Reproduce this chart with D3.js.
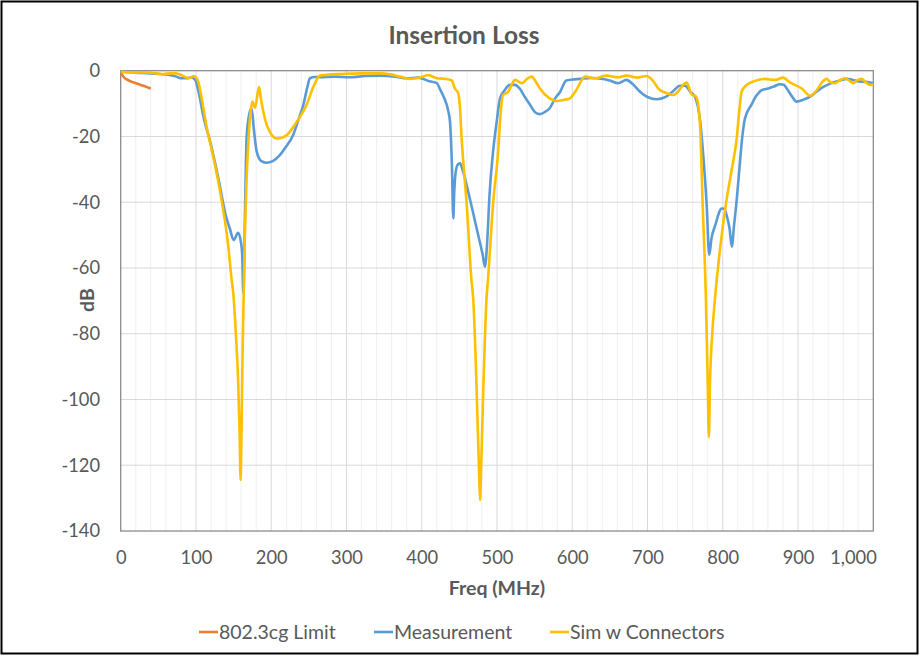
<!DOCTYPE html>
<html><head><meta charset="utf-8">
<script src="https://cdn.jsdelivr.net/npm/d3@7"></script>
<style>body{margin:0;background:#fff;}svg{display:block;font-family:Lato,"Open Sans",sans-serif;}</style>
</head><body><svg id="c" width="921" height="656"></svg>
<script>
const title = "Insertion Loss";
const xLabel = "Freq (MHz)";
const yLabel = "dB";
const xTicks = [0,100,200,300,400,500,600,700,800,900,1000];
const yTicks = [0,-20,-40,-60,-80,-100,-120,-140];
const seriesNames = ["802.3cg Limit","Measurement","Sim w Connectors"];
const seriesColors = ["#ED7D31","#5B9BD5","#FFC000"];

const limitFreq = [0.5,5,10,15,20,25,30,35,40];
const limitDb = [-0.8,-2.2,-2.9,-3.4,-3.8,-4.2,-4.6,-5.0,-5.4];

const measFreq = [0,20,40,52,65,74,80,88,93,99,104,110,120,130,140,145,150,156,160,161.5,163,165,167.4,171,174,177,180.7,187,194,202,211.7,220,229,236,242.7,248,251.5,258,265,285,305,325,345,365,380,395,410,420,425,430,435,437.5,440,442,443,445,448,451,454,465,475,481,484,487,490,495,499.6,504,510,517,524,530,537,544,551,557,564,570,577,584,592,600,610,625,641,650,661,672,680,690,700,712,725,735,743,750,757,763,767,770,774,778.6,782,785,790,798.6,802,805,809,812,815,818.5,822,826,829.5,838,845,851.7,860.5,868,876,881,885,891,898,907,916,925,933.6,942,951,964.7,973,982,990,1000];
const measDb = [-0.3,-0.6,-0.8,-1.0,-1.3,-1.8,-2.3,-2.3,-2.0,-2.8,-7,-14,-22.6,-33,-44.4,-48,-51.5,-49.3,-52.5,-56,-67.7,-45,-20,-13,-11.4,-18,-24.6,-27.5,-28,-27.5,-25.6,-23,-19.6,-15,-10.4,-5,-2.3,-1.9,-2,-1.8,-2,-1.6,-1.5,-1.8,-2.3,-2.1,-3.2,-3.8,-6,-8.4,-12,-15.5,-28,-44.9,-38,-31,-28.5,-28.2,-30,-40,-50,-56,-59.6,-52,-38,-24.1,-15.5,-8.4,-6,-4.3,-4.3,-5.4,-8,-10.4,-12.7,-13.2,-12.5,-11.4,-8.5,-6.4,-3,-2.7,-2.5,-2.2,-2.5,-3,-3.8,-2.8,-4,-6.4,-8,-8.7,-7.9,-6,-4.6,-4.6,-6.5,-7.9,-11,-15.5,-25.6,-40.8,-56,-51,-47,-41.9,-42,-43.9,-48,-53.5,-47,-39.3,-30,-20,-14.5,-10.4,-7.5,-5.9,-5.4,-4.8,-4.1,-4.3,-5.4,-7.5,-9.4,-8.8,-7.9,-6.3,-4.9,-4,-3.3,-2.5,-2.8,-3.3,-3.4,-3.8];

const simFreq = [0,16,35,50,57,67,74,82,90,97.8,100,103,108,115,121,134,143,147.4,149.6,153,156,158,159.3,160.5,162,163.5,165,167,169.5,172,175,178.5,183.8,186,189.5,194,198,207,214,220.6,234,247,256,264.8,291,322,344.5,360,371,384,397.7,408.7,420,433,440,444,448.6,451,453,456,459.8,466,468.5,472,476.5,477.5,479,481.8,486,488,495,501.7,504,508,515,520,524,533,540,546,552,557,570,579,590,597,605,617,630,645.7,661,672,685.6,699,705,716.6,725,734,740,747.5,752,758.7,764.5,767,770,773.3,777.6,780,781.5,783,786,789.5,797,805,812,818.5,822,825,831.8,842.8,856,869.4,880.4,886,893.7,905,916,925,932,938,943,949,955,962.4,968,973.4,978,984.6,990,995.6,1000];
const simDb = [-0.3,-0.5,-0.5,-0.9,-1.0,-0.8,-0.8,-1.5,-2.3,-1.6,-2,-3.3,-9,-18,-24.1,-39.3,-53.5,-63.6,-67.7,-80,-94,-110,-124.5,-110,-85,-67,-50,-35,-22,-14,-9.4,-11.3,-4.9,-8,-12.5,-16.5,-18.5,-20.6,-20.4,-19.6,-15.5,-10.4,-4.9,-1.5,-1.0,-0.8,-0.8,-1.2,-1.8,-2.5,-2.1,-1.3,-2.3,-2.5,-3,-5.4,-6.9,-12,-20.6,-30,-40.8,-63.6,-69.7,-90,-124.5,-130.6,-120,-97,-69.7,-63.6,-39.8,-24.1,-15.5,-7.4,-6.4,-4,-2.8,-3.8,-2.5,-1.8,-3.5,-5.4,-8.4,-9.2,-8.8,-8.4,-6,-1.8,-2.3,-1.5,-2,-1.5,-2.1,-1.6,-2.5,-5.9,-6.8,-7.4,-6.5,-4.3,-3.6,-7.2,-7.9,-10,-17.5,-40.8,-69.7,-95,-111.4,-95,-80,-69.7,-53,-39.3,-30,-20.6,-12,-6.4,-4.3,-3.1,-2.5,-2.8,-2.1,-3,-4.1,-5.4,-7.6,-5.9,-3.5,-2.5,-3.5,-3.8,-3,-2.3,-3,-3.8,-3,-2.5,-3.5,-4.3,-4.1];

const svg = d3.select("#c");
const W = 921, H = 656;
const m = {left:120.7, right:873.3, top:70.7, bottom:531};
const x = d3.scaleLinear().domain([0,1000]).range([m.left,m.right]);
const y = d3.scaleLinear().domain([-140,0]).range([m.bottom,m.top]);
const txt = "#595959";

svg.append("rect").attr("x",1.5).attr("y",1.5).attr("width",W-5).attr("height",H-4)
  .attr("fill","#fff").attr("stroke","#000").attr("stroke-width",2);

const g = svg.append("g");
g.selectAll(".vmin").data(d3.range(20,1000,20).filter(v=>v%100!==0)).join("line")
  .attr("x1",d=>x(d)).attr("x2",d=>x(d)).attr("y1",m.top).attr("y2",m.bottom)
  .attr("stroke","#f0f0f0").attr("stroke-width",1);
g.selectAll(".vmaj").data(xTicks.slice(1,-1)).join("line")
  .attr("x1",d=>x(d)).attr("x2",d=>x(d)).attr("y1",m.top).attr("y2",m.bottom)
  .attr("stroke","#d9d9d9").attr("stroke-width",1);
g.selectAll(".h").data(yTicks.slice(1,-1)).join("line")
  .attr("x1",m.left).attr("x2",m.right).attr("y1",d=>y(d)).attr("y2",d=>y(d))
  .attr("stroke","#d9d9d9").attr("stroke-width",1);
svg.append("rect").attr("x",m.left).attr("y",m.top).attr("width",m.right-m.left).attr("height",m.bottom-m.top)
  .attr("fill","none").attr("stroke","#8c8c8c").attr("stroke-width",1.3);

const xa = svg.append("g").attr("transform",`translate(0,${m.bottom+17})`)
  .call(d3.axisBottom(x).tickValues(xTicks).tickSize(0).tickFormat(d=>d.toLocaleString("en-US")));
xa.select(".domain").remove();
xa.selectAll("text").attr("fill",txt).attr("font-size",18.3).attr("font-family","Lato");
xa.selectAll(".tick").filter(d=>d===1000).select("text").attr("text-anchor","end").attr("dx",3);
const ya = svg.append("g").attr("transform",`translate(103,0)`)
  .call(d3.axisLeft(y).tickValues(yTicks).tickSize(0).tickFormat(d=>String(d)));
ya.select(".domain").remove();
ya.selectAll("text").attr("fill",txt).attr("font-size",18.3).attr("font-family","Lato");

svg.append("text").attr("x",464).attr("y",44).attr("text-anchor","middle")
  .attr("font-size",24.5).attr("font-weight","bold").attr("fill",txt).text(title);
svg.append("text").attr("x",497).attr("y",595).attr("text-anchor","middle")
  .attr("font-size",19.5).attr("font-weight","bold").attr("fill",txt).text(xLabel);
svg.append("text").attr("transform","translate(94,300) rotate(-90)").attr("text-anchor","middle")
  .attr("font-size",19.5).attr("font-weight","bold").attr("fill",txt).text(yLabel);

const line = d3.line().x(d=>x(d[0])).y(d=>y(d[1])).curve(d3.curveMonotoneX);
const series = [
  d3.zip(limitFreq,limitDb),
  d3.zip(measFreq,measDb),
  d3.zip(simFreq,simDb)
];
const plot = svg.append("g");
[1,2,0].forEach(i=>{
  plot.append("path").datum(series[i]).attr("d",line).attr("fill","none")
    .attr("stroke",seriesColors[i]).attr("stroke-width",2.6).attr("stroke-linejoin","round");
});

const legX = [199,374,550];
const lg = svg.append("g");
seriesNames.forEach((n,i)=>{
  lg.append("line").attr("x1",legX[i]).attr("x2",legX[i]+19).attr("y1",632).attr("y2",632)
    .attr("stroke",seriesColors[i]).attr("stroke-width",2.6);
  lg.append("text").attr("x",legX[i]+20).attr("y",639).attr("font-size",19.5).attr("fill",txt).text(n);
});
</script></body></html>
